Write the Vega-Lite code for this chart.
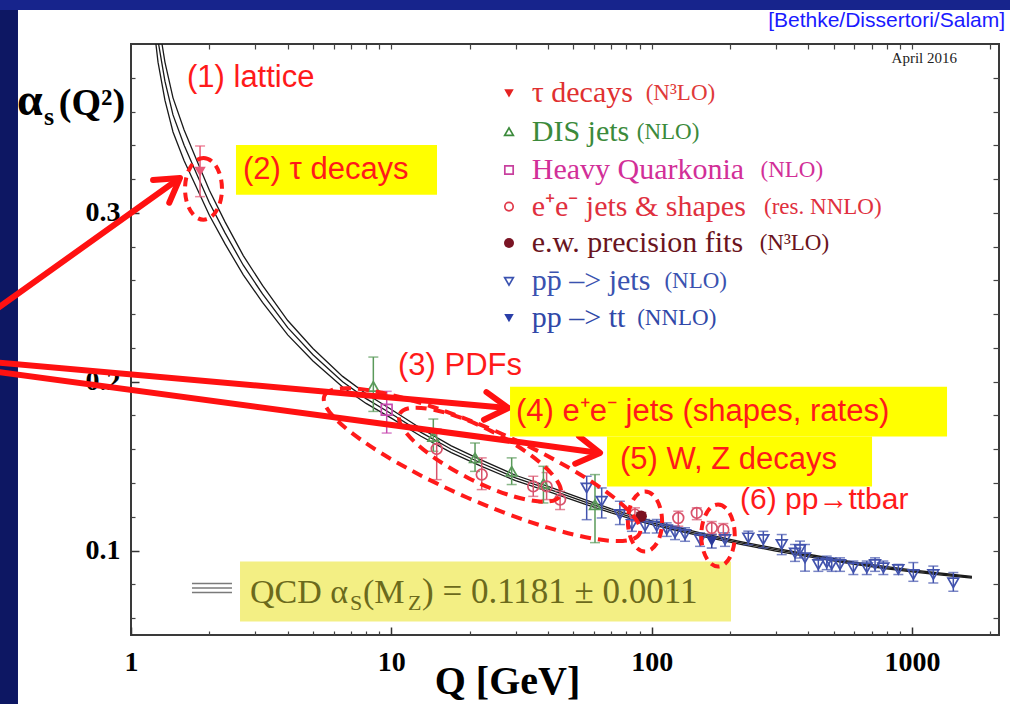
{
"$schema":"https://vega.github.io/schema/vega-lite/v6.json",
"width":868,"height":591,
"autosize":{"type":"none"},
"padding":{"left":131,"top":44,"right":11,"bottom":69},
"background":"#ffffff",
"config":{"view":{"stroke":"#3a3a3a","strokeWidth":2}},
"datasets":{
"curve":[
{"Q":1.15,"c":0.465,"u":0.48205,"l":0.44795},
{"Q":1.2,"c":0.437,"u":0.45206,"l":0.42194},
{"Q":1.27,"c":0.402,"u":0.41475,"l":0.38925},
{"Q":1.35,"c":0.378,"u":0.38927,"l":0.36673},
{"Q":1.45,"c":0.358,"u":0.36811,"l":0.34789},
{"Q":1.6,"c":0.34,"u":0.34912,"l":0.33088},
{"Q":1.8,"c":0.322,"u":0.33018,"l":0.31382},
{"Q":2.0,"c":0.306,"u":0.31339,"l":0.29861},
{"Q":2.3,"c":0.288,"u":0.29454,"l":0.28146},
{"Q":2.7,"c":0.269,"u":0.27471,"l":0.26329},
{"Q":3.2,"c":0.252,"u":0.25701,"l":0.24699},
{"Q":4,"c":0.232,"u":0.23624,"l":0.22776},
{"Q":5,"c":0.216,"u":0.21968,"l":0.21232},
{"Q":6.5,"c":0.2,"u":0.20315,"l":0.19685},
{"Q":8,"c":0.19,"u":0.19285,"l":0.18715},
{"Q":10,"c":0.181,"u":0.18358,"l":0.17842},
{"Q":13,"c":0.17,"u":0.17228,"l":0.16772},
{"Q":17,"c":0.16,"u":0.16202,"l":0.15798},
{"Q":22,"c":0.152,"u":0.15382,"l":0.15018},
{"Q":30,"c":0.143,"u":0.14461,"l":0.14139},
{"Q":40,"c":0.1365,"u":0.13797,"l":0.13503},
{"Q":55,"c":0.129,"u":0.13031,"l":0.12769},
{"Q":70,"c":0.1235,"u":0.1247,"l":0.1223},
{"Q":91.19,"c":0.1181,"u":0.1192,"l":0.117},
{"Q":120,"c":0.1135,"u":0.11452,"l":0.11248},
{"Q":160,"c":0.109,"u":0.10994,"l":0.10806},
{"Q":220,"c":0.1045,"u":0.10536,"l":0.10364},
{"Q":300,"c":0.1005,"u":0.1013,"l":0.0997},
{"Q":420,"c":0.0965,"u":0.09723,"l":0.09577},
{"Q":600,"c":0.0925,"u":0.09317,"l":0.09183},
{"Q":800,"c":0.0898,"u":0.09044,"l":0.08916},
{"Q":1000,"c":0.088,"u":0.08861,"l":0.08739},
{"Q":1300,"c":0.086,"u":0.08658,"l":0.08542},
{"Q":1700,"c":0.0842,"u":0.08476,"l":0.08364}
],
"pts":[
{"s":"tau","Q":1.842,"a":0.3244,"lo":0.3096,"hi":0.3396},
{"s":"DIS","Q":8.53,"a":0.1972,"lo":0.1824,"hi":0.2146},
{"s":"DIS","Q":14.5,"a":0.1676,"lo":0.1588,"hi":0.1779},
{"s":"DIS","Q":20.97,"a":0.1549,"lo":0.1469,"hi":0.1637},
{"s":"DIS","Q":29.0,"a":0.1469,"lo":0.1391,"hi":0.1549},
{"s":"DIS","Q":38.4,"a":0.1396,"lo":0.1282,"hi":0.1499},
{"s":"DIS","Q":60.6,"a":0.1272,"lo":0.1047,"hi":0.145},
{"s":"HQ","Q":9.6,"a":0.1834,"lo":0.1696,"hi":0.1943},
{"s":"ee","Q":14.94,"a":0.1602,"lo":0.142,"hi":0.172},
{"s":"ee","Q":22.25,"a":0.145,"lo":0.1361,"hi":0.1549},
{"s":"ee","Q":35.1,"a":0.138,"lo":0.1321,"hi":0.144},
{"s":"ee","Q":39.5,"a":0.138,"lo":0.1302,"hi":0.1462},
{"s":"ee","Q":44.5,"a":0.1302,"lo":0.1243,"hi":0.1351},
{"s":"ee","Q":86.3,"a":0.1213,"lo":0.1173,"hi":0.1253},
{"s":"ee","Q":126.6,"a":0.1193,"lo":0.1144,"hi":0.1233},
{"s":"ee","Q":149.1,"a":0.1223,"lo":0.1183,"hi":0.1253},
{"s":"ee","Q":170.2,"a":0.1134,"lo":0.1098,"hi":0.1172},
{"s":"ee","Q":188.6,"a":0.1124,"lo":0.1088,"hi":0.116},
{"s":"ew","Q":91.2,"a":0.1203,"lo":0.1181,"hi":0.1225},
{"s":"pp","Q":56.3,"a":0.1371,"lo":0.1183,"hi":0.144},
{"s":"pp","Q":64.3,"a":0.1292,"lo":0.1193,"hi":0.1371},
{"s":"pp","Q":75.5,"a":0.1213,"lo":0.1154,"hi":0.1292},
{"s":"pp","Q":84.0,"a":0.1154,"lo":0.1114,"hi":0.1194},
{"s":"pp","Q":94.4,"a":0.1144,"lo":0.1104,"hi":0.1184},
{"s":"pp","Q":104.6,"a":0.1144,"lo":0.1104,"hi":0.1184},
{"s":"pp","Q":114.3,"a":0.1124,"lo":0.1084,"hi":0.1164},
{"s":"pp","Q":123.0,"a":0.1105,"lo":0.1065,"hi":0.1145},
{"s":"pp","Q":134.4,"a":0.1095,"lo":0.1055,"hi":0.1135},
{"s":"pp","Q":153.5,"a":0.1065,"lo":0.1025,"hi":0.1105},
{"s":"pp","Q":191.4,"a":0.1065,"lo":0.1025,"hi":0.1105},
{"s":"pp","Q":235.2,"a":0.1075,"lo":0.1035,"hi":0.1115},
{"s":"pp","Q":268.6,"a":0.1065,"lo":0.1016,"hi":0.1114},
{"s":"pp","Q":316.1,"a":0.1036,"lo":0.0976,"hi":0.1095},
{"s":"pp","Q":355.5,"a":0.0986,"lo":0.0936,"hi":0.1036},
{"s":"pp","Q":371.6,"a":0.1006,"lo":0.0956,"hi":0.1056},
{"s":"pp","Q":388.4,"a":0.0957,"lo":0.0878,"hi":0.1036},
{"s":"pp","Q":436.9,"a":0.0917,"lo":0.0877,"hi":0.0957},
{"s":"pp","Q":470.6,"a":0.0927,"lo":0.0887,"hi":0.0967},
{"s":"pp","Q":491.9,"a":0.0917,"lo":0.0877,"hi":0.0957},
{"s":"pp","Q":529.4,"a":0.0917,"lo":0.0877,"hi":0.0957},
{"s":"pp","Q":595.5,"a":0.0898,"lo":0.0858,"hi":0.0938},
{"s":"pp","Q":670.6,"a":0.0898,"lo":0.0858,"hi":0.0938},
{"s":"pp","Q":721.6,"a":0.0917,"lo":0.0877,"hi":0.0957},
{"s":"pp","Q":776.5,"a":0.0898,"lo":0.0858,"hi":0.0938},
{"s":"pp","Q":886.8,"a":0.0888,"lo":0.0858,"hi":0.0918},
{"s":"pp","Q":1012.5,"a":0.0858,"lo":0.0818,"hi":0.0929},
{"s":"pp","Q":1208,"a":0.0858,"lo":0.0808,"hi":0.0908},
{"s":"pp","Q":1442,"a":0.0809,"lo":0.0759,"hi":0.087},
{"s":"pptt","Q":170.2,"a":0.1055,"lo":0.1015,"hi":0.1095}
]
},
"resolve":{"axis":{"x":"independent","y":"independent"}},
"layer":[
{"data":{"values":[{}]},"mark":{"type":"rect","color":"#0d1763"},"encoding":{"x":{"datum":0.05,"type":"quantitative","axis":null},"x2":{"datum":0.368},"y":{"datum":-1,"type":"quantitative","axis":null},"y2":{"datum":2}}},
{"data":{"values":[{}]},"mark":{"type":"rect","color":"#17248c"},"encoding":{"x":{"datum":0.05,"type":"quantitative","axis":null},"x2":{"datum":100000},"y":{"datum":0.4201,"type":"quantitative","axis":null},"y2":{"datum":2}}},
{"data":{"values":[{}]},"mark":{"type":"rect","color":"#f3ef84"},"encoding":{"x":{"datum":2.623,"type":"quantitative","axis":null},"x2":{"datum":201.8},"y":{"datum":0.0935,"type":"quantitative","axis":null},"y2":{"datum":0.058}}},
{"data":{"name":"curve"},"mark":{"type":"line","color":"#1a1a1a","strokeWidth":1.3,"clip":true},"encoding":{
 "x":{"field":"Q","type":"quantitative","scale":{"type":"log","domain":[1,2160],"nice":false},
  "axis":{"orient":"bottom","values":[1,10,100,1000],"format":"d","labelFont":"Liberation Serif","labelFontWeight":"bold","labelFontSize":28,"labelColor":"#000000","labelFlush":false,"labelBound":false,"labelOverlap":false,"labelPadding":21,"tickSize":-8,"tickWidth":1.5,"tickColor":"#333333","domain":false,"grid":false,"title":"Q [GeV]","titleFont":"Liberation Serif","titleFontWeight":"bold","titleFontSize":40,"titleColor":"#000000","titleX":376,"titleY":58,"titleAlign":"center","titleBaseline":"alphabetic"}},
 "y":{"field":"c","type":"quantitative","scale":{"domain":[0.05,0.4],"nice":false,"zero":false},
  "axis":{"orient":"left","values":[0.1,0.2,0.3],"format":".1f","labelFont":"Liberation Serif","labelFontWeight":"bold","labelFontSize":28,"labelColor":"#000000","labelPadding":19,"labelBaseline":"middle","labelOverlap":false,"tickSize":-8,"tickWidth":1.5,"tickColor":"#333333","domain":false,"grid":false,"title":null}}}},
{"data":{"name":"curve"},"mark":{"type":"line","color":"#1a1a1a","strokeWidth":1.3,"clip":true},"encoding":{
 "x":{"field":"Q","type":"quantitative","axis":{"orient":"bottom","values":[2,3,4,5,6,7,8,9,20,30,40,50,60,70,80,90,200,300,400,500,600,700,800,900,2000],"labels":false,"tickSize":-4,"tickWidth":1.2,"tickColor":"#444444","domain":false,"grid":false,"title":null}},
 "y":{"field":"u","type":"quantitative","axis":{"orient":"left","values":[0.06,0.08,0.12,0.14,0.16,0.18,0.22,0.24,0.26,0.28,0.32,0.34,0.36,0.38],"labels":false,"tickSize":-4,"tickWidth":1.2,"tickColor":"#444444","domain":false,"grid":false,"title":null}}}},
{"data":{"name":"curve"},"mark":{"type":"line","color":"#1a1a1a","strokeWidth":1.3,"clip":true},"encoding":{
 "x":{"field":"Q","type":"quantitative","axis":{"orient":"top","values":[2,3,4,5,6,7,8,9,10,20,30,40,50,60,70,80,90,100,200,300,400,500,600,700,800,900,1000,2000],"labels":false,"tickSize":-5,"tickWidth":1.2,"tickColor":"#444444","domain":false,"grid":false,"title":null}},
 "y":{"field":"l","type":"quantitative","axis":{"orient":"right","values":[0.06,0.08,0.1,0.12,0.14,0.16,0.18,0.2,0.22,0.24,0.26,0.28,0.3,0.32,0.34,0.36,0.38],"labels":false,"tickSize":-6,"tickWidth":1.2,"tickColor":"#444444","domain":false,"grid":false,"title":null}}}},
{"data":{"name":"pts"},"mark":{"type":"errorbar","ticks":{"size":10,"thickness":1.5},"rule":{"strokeWidth":1.5}},"encoding":{
 "x":{"field":"Q","type":"quantitative","axis":null},
 "y":{"field":"lo","type":"quantitative","axis":null},"y2":{"field":"hi"},
 "color":{"field":"s","type":"nominal","legend":null,"scale":{"domain":["tau","DIS","HQ","ee","ew","pp","pptt"],"range":["#e85a78","#5a9a5a","#c84bb0","#d9536c","#7a1020","#4253ad","#2a3a9a"]}}}},
{"data":{"name":"pts"},"transform":[{"filter":{"field":"s","oneOf":["DIS","HQ","ee","pp"]}}],"mark":{"type":"point","filled":false,"strokeWidth":1.7,"size":115,"opacity":1},"encoding":{
 "x":{"field":"Q","type":"quantitative","axis":null},
 "y":{"field":"a","type":"quantitative","axis":null},
 "color":{"field":"s","type":"nominal","legend":null,"scale":{"domain":["tau","DIS","HQ","ee","ew","pp","pptt"],"range":["#e85a78","#5a9a5a","#c84bb0","#d9536c","#7a1020","#4253ad","#2a3a9a"]}},
 "shape":{"field":"s","type":"nominal","legend":null,"scale":{"domain":["tau","DIS","HQ","ee","ew","pp","pptt"],"range":["triangle-down","triangle-up","square","circle","circle","triangle-down","triangle-down"]}}}},
{"data":{"name":"pts"},"transform":[{"filter":{"field":"s","oneOf":["tau","ew","pptt"]}}],"mark":{"type":"point","filled":true,"size":130,"opacity":1},"encoding":{
 "x":{"field":"Q","type":"quantitative","axis":null},
 "y":{"field":"a","type":"quantitative","axis":null},
 "color":{"field":"s","type":"nominal","legend":null,"scale":{"domain":["tau","DIS","HQ","ee","ew","pp","pptt"],"range":["#e85a78","#5a9a5a","#c84bb0","#d9536c","#7a1020","#4253ad","#2a3a9a"]}},
 "shape":{"field":"s","type":"nominal","legend":null,"scale":{"domain":["tau","DIS","HQ","ee","ew","pp","pptt"],"range":["triangle-down","triangle-up","square","circle","circle","triangle-down","triangle-down"]}}}},
{"data":{"values":[{}]},"mark":{"type":"point","shape":"M 0 -1 A 0.6 1 0 1 1 0 1 A 0.6 1 0 1 1 0 -1 Z","size":3794,"filled":false,"color":"#ff1a1a","strokeWidth":4,"strokeDash":[9,6],"opacity":1},"encoding":{"x":{"datum":1.899,"type":"quantitative","axis":null},"y":{"datum":0.3142,"type":"quantitative","axis":null}}},
{"data":{"values":[{}]},"mark":{"type":"point","shape":"M 0 -1 A 0.57 1 0 1 1 0 1 A 0.57 1 0 1 1 0 -1 Z","size":3600,"filled":false,"color":"#ff1a1a","strokeWidth":4,"strokeDash":[9,6],"opacity":1},"encoding":{"x":{"datum":94.3,"type":"quantitative","axis":null},"y":{"datum":0.1172,"type":"quantitative","axis":null}}},
{"data":{"values":[{}]},"mark":{"type":"point","shape":"M 0 -1 A 0.54 1 0 1 1 0 1 A 0.54 1 0 1 1 0 -1 Z","size":3844,"filled":false,"color":"#ff1a1a","strokeWidth":4,"strokeDash":[9,6],"opacity":1},"encoding":{"x":{"datum":179.9,"type":"quantitative","axis":null},"y":{"datum":0.1089,"type":"quantitative","axis":null}}},
{"data":{"values":[{}]},"mark":{"type":"point","shape":"M -1 0 A 1 0.21 0 1 1 1 0 A 1 0.21 0 1 1 -1 0 Z","size":118336,"angle":23.6,"filled":false,"color":"#ff1a1a","strokeWidth":4,"strokeDash":[11,7],"opacity":1},"encoding":{"x":{"datum":22.31,"type":"quantitative","axis":null},"y":{"datum":0.1509,"type":"quantitative","axis":null}}},
{"data":{"values":[{}]},"mark":{"type":"point","shape":"M -1 0 A 1 0.29 0 1 1 1 0 A 1 0.29 0 1 1 -1 0 Z","size":32400,"angle":27,"filled":false,"color":"#ff1a1a","strokeWidth":4,"strokeDash":[11,7],"opacity":1},"encoding":{"x":{"datum":21.92,"type":"quantitative","axis":null},"y":{"datum":0.1568,"type":"quantitative","axis":null}}},
{"data":{"values":[{}]},"mark":{"type":"rule","color":"#ff1111","strokeWidth":6,"strokeCap":"round"},"encoding":{"x":{"datum":0.2872,"type":"quantitative","axis":null},"y":{"datum":0.2403,"type":"quantitative","axis":null},"x2":{"datum":1.489},"y2":{"datum":0.319}}},
{"data":{"values":[{}]},"mark":{"type":"rule","color":"#ff1111","strokeWidth":6,"strokeCap":"round"},"encoding":{"x":{"datum":0.2872,"type":"quantitative","axis":null},"y":{"datum":0.21178,"type":"quantitative","axis":null},"x2":{"datum":26.63},"y2":{"datum":0.18479}}},
{"data":{"values":[{}]},"mark":{"type":"rule","color":"#ff1111","strokeWidth":6,"strokeCap":"round"},"encoding":{"x":{"datum":0.2872,"type":"quantitative","axis":null},"y":{"datum":0.20639,"type":"quantitative","axis":null},"x2":{"datum":60.07},"y2":{"datum":0.15828}}},
{"data":{"values":[{}]},"mark":{"type":"point","shape":"M -1 -0.6 L 0 0 L -1 0.6","size":2150,"angle":-35.6,"filled":false,"color":"#ff1111","strokeWidth":6,"strokeCap":"round","strokeJoin":"round","opacity":1},"encoding":{"x":{"datum":1.5427,"type":"quantitative","axis":null},"y":{"datum":0.32071,"type":"quantitative","axis":null}}},
{"data":{"values":[{}]},"mark":{"type":"point","shape":"M -1 -0.6 L 0 0 L -1 0.6","size":2150,"angle":5.1,"filled":false,"color":"#ff1111","strokeWidth":6,"strokeCap":"round","strokeJoin":"round","opacity":1},"encoding":{"x":{"datum":28.15,"type":"quantitative","axis":null},"y":{"datum":0.18444,"type":"quantitative","axis":null}}},
{"data":{"values":[{}]},"mark":{"type":"point","shape":"M -1 -0.6 L 0 0 L -1 0.6","size":2150,"angle":7.7,"filled":false,"color":"#ff1111","strokeWidth":6,"strokeCap":"round","strokeJoin":"round","opacity":1},"encoding":{"x":{"datum":63.36,"type":"quantitative","axis":null},"y":{"datum":0.15781,"type":"quantitative","axis":null}}},
{"data":{"values":[{}]},"mark":{"type":"rect","color":"#ffff00"},"encoding":{"x":{"datum":2.531,"type":"quantitative","axis":null},"x2":{"datum":14.98},"y":{"datum":0.3402,"type":"quantitative","axis":null},"y2":{"datum":0.3107}}},
{"data":{"values":[{}]},"mark":{"type":"rect","color":"#ffff00"},"encoding":{"x":{"datum":28.58,"type":"quantitative","axis":null},"x2":{"datum":1364},"y":{"datum":0.197,"type":"quantitative","axis":null},"y2":{"datum":0.1675}}},
{"data":{"values":[{}]},"mark":{"type":"rect","color":"#ffff00"},"encoding":{"x":{"datum":67.4,"type":"quantitative","axis":null},"x2":{"datum":702.6},"y":{"datum":0.1675,"type":"quantitative","axis":null},"y2":{"datum":0.1379}}},
{"data":{"values":[{}]},"mark":{"type":"text","text":"(1) lattice","align":"left","baseline":"middle","font":"Liberation Sans","fontSize":31,"color":"#ff1a1a"},"encoding":{"x":{"datum":1.641,"type":"quantitative","axis":null},"y":{"datum":0.3799,"type":"quantitative","axis":null}}},
{"data":{"values":[{}]},"mark":{"type":"text","text":"(2) τ decays","align":"left","baseline":"middle","font":"Liberation Sans","fontSize":31,"color":"#ff1a1a"},"encoding":{"x":{"datum":2.694,"type":"quantitative","axis":null},"y":{"datum":0.3254,"type":"quantitative","axis":null}}},
{"data":{"values":[{}]},"mark":{"type":"text","text":"(3) PDFs","align":"left","baseline":"middle","font":"Liberation Sans","fontSize":31,"color":"#ff1a1a"},"encoding":{"x":{"datum":10.61,"type":"quantitative","axis":null},"y":{"datum":0.2095,"type":"quantitative","axis":null}}},
{"data":{"values":[{}]},"mark":{"type":"text","text":"(4) e⁺e⁻ jets (shapes, rates)","align":"left","baseline":"middle","font":"Liberation Sans","fontSize":31,"color":"#ff1a1a"},"encoding":{"x":{"datum":30.13,"type":"quantitative","axis":null},"y":{"datum":0.1822,"type":"quantitative","axis":null}}},
{"data":{"values":[{}]},"mark":{"type":"text","text":"(5) W, Z decays","align":"left","baseline":"middle","font":"Liberation Sans","fontSize":31,"color":"#ff1a1a"},"encoding":{"x":{"datum":75.6,"type":"quantitative","axis":null},"y":{"datum":0.1538,"type":"quantitative","axis":null}}},
{"data":{"values":[{}]},"mark":{"type":"text","text":"(6) pp→ttbar","align":"left","baseline":"middle","font":"Liberation Sans","fontSize":30,"color":"#ff1a1a"},"encoding":{"x":{"datum":218.6,"type":"quantitative","axis":null},"y":{"datum":0.1302,"type":"quantitative","axis":null}}},
{"data":{"values":[{}]},"mark":{"type":"text","text":"[Bethke/Dissertori/Salam]","align":"right","baseline":"middle","font":"Liberation Sans","fontSize":21,"color":"#1a1aff"},"encoding":{"x":{"datum":2279,"type":"quantitative","axis":null},"y":{"datum":0.4136,"type":"quantitative","axis":null}}},
{"data":{"values":[{}]},"mark":{"type":"text","text":"April 2016","align":"right","baseline":"middle","font":"Liberation Serif","fontSize":15,"color":"#222222"},"encoding":{"x":{"datum":1490,"type":"quantitative","axis":null},"y":{"datum":0.3917,"type":"quantitative","axis":null}}},
{"data":{"values":[{}]},"mark":{"type":"text","text":"α","align":"left","baseline":"alphabetic","font":"Liberation Serif","fontWeight":"bold","fontSize":46,"color":"#000000"},"encoding":{"x":{"datum":0.3648,"type":"quantitative","axis":null},"y":{"datum":0.358,"type":"quantitative","axis":null}}},
{"data":{"values":[{}]},"mark":{"type":"text","text":"s","align":"left","baseline":"alphabetic","font":"Liberation Serif","fontWeight":"bold","fontSize":26,"color":"#000000"},"encoding":{"x":{"datum":0.4632,"type":"quantitative","axis":null},"y":{"datum":0.3521,"type":"quantitative","axis":null}}},
{"data":{"values":[{}]},"mark":{"type":"text","text":"(Q²)","align":"left","baseline":"alphabetic","font":"Liberation Serif","fontWeight":"bold","fontSize":38,"color":"#000000"},"encoding":{"x":{"datum":0.528,"type":"quantitative","axis":null},"y":{"datum":0.358,"type":"quantitative","axis":null}}},
{"data":{"values":[{}]},"mark":{"type":"rule","color":"#7a7a7a","strokeWidth":1.5},"encoding":{"x":{"datum":1.715,"type":"quantitative","axis":null},"x2":{"datum":2.443},"y":{"datum":0.08047,"type":"quantitative","axis":null}}},
{"data":{"values":[{}]},"mark":{"type":"rule","color":"#7a7a7a","strokeWidth":1.5},"encoding":{"x":{"datum":1.715,"type":"quantitative","axis":null},"x2":{"datum":2.443},"y":{"datum":0.07781,"type":"quantitative","axis":null}}},
{"data":{"values":[{}]},"mark":{"type":"rule","color":"#7a7a7a","strokeWidth":1.5},"encoding":{"x":{"datum":1.715,"type":"quantitative","axis":null},"x2":{"datum":2.443},"y":{"datum":0.07515,"type":"quantitative","axis":null}}},
{"data":{"values":[{}]},"mark":{"type":"text","text":"QCD α","align":"left","baseline":"alphabetic","font":"Liberation Serif","fontSize":34,"color":"#6b6a1c"},"encoding":{"x":{"datum":2.866,"type":"quantitative","axis":null},"y":{"datum":0.0692,"type":"quantitative","axis":null}}},
{"data":{"values":[{}]},"mark":{"type":"text","text":"S","align":"left","baseline":"alphabetic","font":"Liberation Serif","fontSize":22,"color":"#6b6a1c"},"encoding":{"x":{"datum":6.94,"type":"quantitative","axis":null},"y":{"datum":0.0651,"type":"quantitative","axis":null}}},
{"data":{"values":[{}]},"mark":{"type":"text","text":"(M","align":"left","baseline":"alphabetic","font":"Liberation Serif","fontSize":34,"color":"#6b6a1c"},"encoding":{"x":{"datum":7.785,"type":"quantitative","axis":null},"y":{"datum":0.0692,"type":"quantitative","axis":null}}},
{"data":{"values":[{}]},"mark":{"type":"text","text":"Z","align":"left","baseline":"alphabetic","font":"Liberation Serif","fontSize":22,"color":"#6b6a1c"},"encoding":{"x":{"datum":11.59,"type":"quantitative","axis":null},"y":{"datum":0.0651,"type":"quantitative","axis":null}}},
{"data":{"values":[{}]},"mark":{"type":"text","text":") = 0.1181 ± 0.0011","align":"left","baseline":"alphabetic","font":"Liberation Serif","fontSize":35,"color":"#6b6a1c"},"encoding":{"x":{"datum":13.12,"type":"quantitative","axis":null},"y":{"datum":0.0692,"type":"quantitative","axis":null}}},
{"data":{"values":[{}]},"mark":{"type":"point","shape":"triangle-down","filled":true,"size":90,"color":"#e52222","opacity":1},"encoding":{"x":{"datum":28.32,"type":"quantitative","axis":null},"y":{"datum":0.3708,"type":"quantitative","axis":null}}},
{"data":{"values":[{}]},"mark":{"type":"point","shape":"triangle-up","filled":false,"strokeWidth":1.7,"size":75,"color":"#3b8a3b","opacity":1},"encoding":{"x":{"datum":28.32,"type":"quantitative","axis":null},"y":{"datum":0.3481,"type":"quantitative","axis":null}}},
{"data":{"values":[{}]},"mark":{"type":"point","shape":"square","filled":false,"strokeWidth":1.7,"size":70,"color":"#c8409e","opacity":1},"encoding":{"x":{"datum":28.32,"type":"quantitative","axis":null},"y":{"datum":0.3254,"type":"quantitative","axis":null}}},
{"data":{"values":[{}]},"mark":{"type":"point","shape":"circle","filled":false,"strokeWidth":1.7,"size":70,"color":"#e03a4a","opacity":1},"encoding":{"x":{"datum":28.32,"type":"quantitative","axis":null},"y":{"datum":0.3037,"type":"quantitative","axis":null}}},
{"data":{"values":[{}]},"mark":{"type":"point","shape":"circle","filled":true,"size":100,"color":"#7a1424","opacity":1},"encoding":{"x":{"datum":28.32,"type":"quantitative","axis":null},"y":{"datum":0.2821,"type":"quantitative","axis":null}}},
{"data":{"values":[{}]},"mark":{"type":"point","shape":"triangle-down","filled":false,"strokeWidth":1.7,"size":75,"color":"#3a52b0","opacity":1},"encoding":{"x":{"datum":28.32,"type":"quantitative","axis":null},"y":{"datum":0.2594,"type":"quantitative","axis":null}}},
{"data":{"values":[{}]},"mark":{"type":"point","shape":"triangle-down","filled":true,"size":90,"color":"#2a3ea8","opacity":1},"encoding":{"x":{"datum":28.32,"type":"quantitative","axis":null},"y":{"datum":0.2377,"type":"quantitative","axis":null}}},
{"data":{"values":[{}]},"mark":{"type":"text","text":"τ decays","align":"left","baseline":"middle","font":"Liberation Serif","fontSize":30,"color":"#e03030"},"encoding":{"x":{"datum":34.63,"type":"quantitative","axis":null},"y":{"datum":0.3708,"type":"quantitative","axis":null}}},
{"data":{"values":[{}]},"mark":{"type":"text","text":"DIS jets","align":"left","baseline":"middle","font":"Liberation Serif","fontSize":30,"color":"#3b8a3b"},"encoding":{"x":{"datum":34.63,"type":"quantitative","axis":null},"y":{"datum":0.3481,"type":"quantitative","axis":null}}},
{"data":{"values":[{}]},"mark":{"type":"text","text":"Heavy Quarkonia","align":"left","baseline":"middle","font":"Liberation Serif","fontSize":30,"color":"#d22f98"},"encoding":{"x":{"datum":34.63,"type":"quantitative","axis":null},"y":{"datum":0.3254,"type":"quantitative","axis":null}}},
{"data":{"values":[{}]},"mark":{"type":"text","text":"e⁺e⁻  jets & shapes","align":"left","baseline":"middle","font":"Liberation Serif","fontSize":30,"color":"#e0303e"},"encoding":{"x":{"datum":34.63,"type":"quantitative","axis":null},"y":{"datum":0.3037,"type":"quantitative","axis":null}}},
{"data":{"values":[{}]},"mark":{"type":"text","text":"e.w. precision fits","align":"left","baseline":"middle","font":"Liberation Serif","fontSize":30,"color":"#6a1420"},"encoding":{"x":{"datum":34.63,"type":"quantitative","axis":null},"y":{"datum":0.2821,"type":"quantitative","axis":null}}},
{"data":{"values":[{}]},"mark":{"type":"text","text":"pp̄ –> jets","align":"left","baseline":"middle","font":"Liberation Serif","fontSize":30,"color":"#3a52b0"},"encoding":{"x":{"datum":34.63,"type":"quantitative","axis":null},"y":{"datum":0.2594,"type":"quantitative","axis":null}}},
{"data":{"values":[{}]},"mark":{"type":"text","text":"pp –> tt","align":"left","baseline":"middle","font":"Liberation Serif","fontSize":30,"color":"#3048a8"},"encoding":{"x":{"datum":34.63,"type":"quantitative","axis":null},"y":{"datum":0.2377,"type":"quantitative","axis":null}}},
{"data":{"values":[{}]},"mark":{"type":"text","text":"(N³LO)","align":"left","baseline":"middle","font":"Liberation Serif","fontSize":23,"color":"#e03a3a"},"encoding":{"x":{"datum":94.9,"type":"quantitative","axis":null},"y":{"datum":0.3708,"type":"quantitative","axis":null}}},
{"data":{"values":[{}]},"mark":{"type":"text","text":"(NLO)","align":"left","baseline":"middle","font":"Liberation Serif","fontSize":23,"color":"#3b8a3b"},"encoding":{"x":{"datum":87.7,"type":"quantitative","axis":null},"y":{"datum":0.3481,"type":"quantitative","axis":null}}},
{"data":{"values":[{}]},"mark":{"type":"text","text":"(NLO)","align":"left","baseline":"middle","font":"Liberation Serif","fontSize":23,"color":"#d22f98"},"encoding":{"x":{"datum":262,"type":"quantitative","axis":null},"y":{"datum":0.3254,"type":"quantitative","axis":null}}},
{"data":{"values":[{}]},"mark":{"type":"text","text":"(res. NNLO)","align":"left","baseline":"middle","font":"Liberation Serif","fontSize":23,"color":"#e0303e"},"encoding":{"x":{"datum":270.3,"type":"quantitative","axis":null},"y":{"datum":0.3037,"type":"quantitative","axis":null}}},
{"data":{"values":[{}]},"mark":{"type":"text","text":"(N³LO)","align":"left","baseline":"middle","font":"Liberation Serif","fontSize":23,"color":"#6a1420"},"encoding":{"x":{"datum":260,"type":"quantitative","axis":null},"y":{"datum":0.2821,"type":"quantitative","axis":null}}},
{"data":{"values":[{}]},"mark":{"type":"text","text":"(NLO)","align":"left","baseline":"middle","font":"Liberation Serif","fontSize":23,"color":"#3a52b0"},"encoding":{"x":{"datum":112,"type":"quantitative","axis":null},"y":{"datum":0.2594,"type":"quantitative","axis":null}}},
{"data":{"values":[{}]},"mark":{"type":"text","text":"(NNLO)","align":"left","baseline":"middle","font":"Liberation Serif","fontSize":23,"color":"#3048a8"},"encoding":{"x":{"datum":88,"type":"quantitative","axis":null},"y":{"datum":0.2377,"type":"quantitative","axis":null}}}
]
}
